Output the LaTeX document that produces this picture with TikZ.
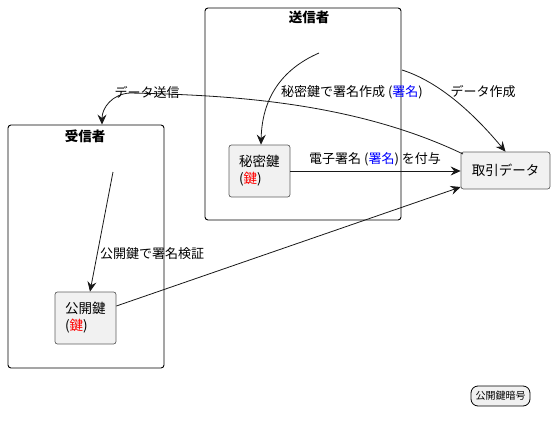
\documentclass[tikz,border=0pt]{standalone}
\usepackage{fontspec}
\setmainfont{Noto Sans CJK JP}
\usetikzlibrary{arrows.meta}
\definecolor{nodefill}{HTML}{F1F1F1}
\definecolor{nodeline}{HTML}{5F5F5F}
\definecolor{lnk}{HTML}{181818}
\tikzset{
  cluster/.style={draw=black, line width=0.9pt, rounded corners=3pt},
  keybox/.style={draw=nodeline, fill=nodefill, line width=0.7pt, rounded corners=2.5pt, align=left, font=\fontsize{13.5}{17}\selectfont, inner sep=0pt},
  lbl/.style={font=\fontsize{13}{15}\selectfont, inner sep=1pt},
  ttl/.style={font=\fontsize{13.5}{16}\selectfont\bfseries, inner sep=0pt},
  conn/.style={draw=lnk, line width=0.8pt, -{Stealth[length=10pt,width=9pt,inset=3.5pt]}},
  legendbox/.style={draw=black, fill=nodefill, line width=0.8pt, rounded corners=7pt, font=\fontsize{10}{12}\selectfont, minimum width=59pt, minimum height=20pt, inner sep=0pt}
}
\begin{document}
\begin{tikzpicture}[x=1pt,y=-1pt]
\useasboundingbox (0,0) rectangle (555,426);
% clusters
\node[cluster, minimum width=196pt, minimum height=212pt, inner sep=0pt] (sbox) at (303,114) {};
\node[ttl] (stitle) at (309,17) {送信者};
\node[cluster, minimum width=156pt, minimum height=243pt, inner sep=0pt] (rbox) at (86,246.5) {};
\node[ttl] (rtitle) at (85,136) {受信者};
% nodes
\node[keybox, minimum width=61pt, minimum height=52pt, text width=41pt] (priv) at (259.5,171) {秘密鍵\\(\textcolor{red}{鍵})};
\node[keybox, minimum width=61pt, minimum height=52pt, text width=41pt] (pub) at (85.5,318) {公開鍵\\(\textcolor{red}{鍵})};
\node[keybox, minimum width=89pt, minimum height=37pt, align=center] (tx) at (505.5,170.5) {取引データ};
\node[legendbox] (legend) at (500.5,396) {公開鍵暗号};
% anchor points
\coordinate (sp) at (319,53);
\coordinate (sr) at (402,70);
\coordinate (rp) at (113,172);
\coordinate (txs) at (463,154);
\coordinate (dmid) at (130,93);
% connectors
\draw[conn] (sp) .. controls (280,70) and (262,100) .. (priv.north -| 261,0);
\node[lbl] (l1) at (352,92) {秘密鍵で署名作成 (\textcolor{blue}{署名})};
\draw[conn] (sr) .. controls (440,82) and (475,115) .. (tx.north);
\node[lbl] (l2) at (483,92) {データ作成};
\draw[conn] (txs) .. controls (350,100) and (220,95) .. (dmid) .. controls (112,94) and (102,108) .. (rbox.north -| 102,0);
\node[lbl] (l3) at (147,92) {データ送信};
\draw[conn] (priv.east) -- (tx.west |- priv.east);
\node[lbl] (l4) at (375,159) {電子署名 (\textcolor{blue}{署名}) を付与};
\draw[conn] (rp) -- (pub.north -| 90,0);
\node[lbl] (l5) at (152,254) {公開鍵で署名検証};
\draw[conn] (pub.east |- 0,306) -- (tx.west |- 0,187);
\end{tikzpicture}
\end{document}
